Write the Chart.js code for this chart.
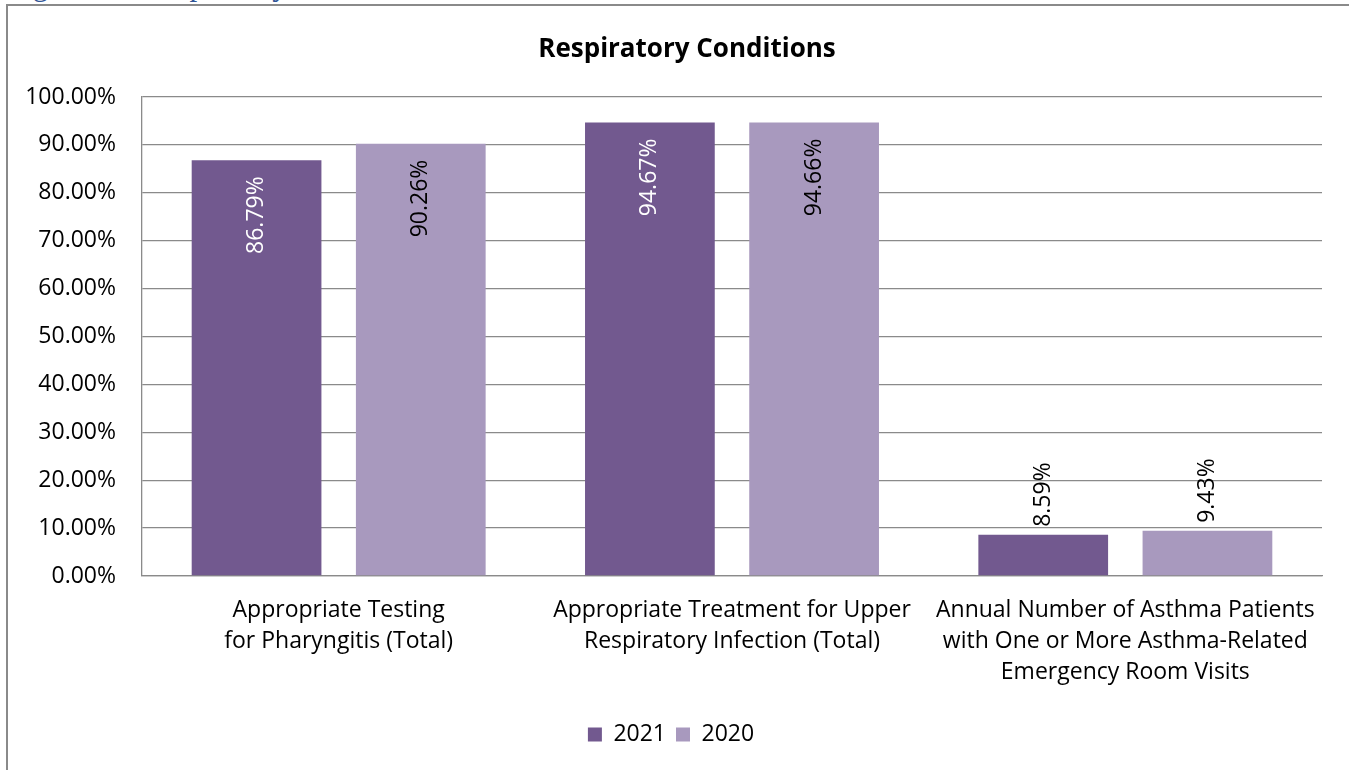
<!DOCTYPE html>
<html>
<head>
<meta charset="utf-8">
<script src="https://cdn.jsdelivr.net/npm/chart.js@4"></script>
<style>
  body { margin: 0; background: #fff; overflow: hidden; }
  #caption {
    position: absolute; left: 7px; top: -31px;
    font-family: "Liberation Serif", serif; font-size: 31px; line-height: 31px;
    color: #2F5496; white-space: nowrap;
  }
  #frame {
    position: absolute; left: 6px; top: 4px; width: 1400px; height: 800px;
    border-left: 2px solid #8a8a8a; border-top: 2px solid #8a8a8a;
  }
  #wrap { position: absolute; left: 0; top: 0; width: 1349px; height: 770px; }
</style>
</head>
<body>
<div id="caption">Figure 10: Respiratory Conditions</div>
<div id="frame"></div>
<div id="wrap"><canvas id="chartResp"></canvas></div>
<script>
// chart data
const categories = [
    ['Appropriate Testing', 'for Pharyngitis (Total)'],
    ['Appropriate Treatment for Upper', 'Respiratory Infection (Total)'],
    ['Annual Number of Asthma Patients', 'with One or More Asthma-Related', 'Emergency Room Visits']
];
const values2021 = [86.79, 94.67, 8.59];
const values2020 = [90.26, 94.66, 9.43];
const yTicks = [0, 10, 20, 30, 40, 50, 60, 70, 80, 90, 100];

const FONT = '"Open Sans", sans-serif';

// draws the rotated value labels on top of / inside the bars
const barLabels = {
    id: 'barLabels',
    afterLayout(chart) {
        // title sits a little right of the canvas centre in the original
        if (chart.titleBlock) {
            chart.titleBlock.left += 16;
            chart.titleBlock.right += 16;
        }
    },
    afterDatasetsDraw(chart) {
        const ctx = chart.ctx;
        chart.data.datasets.forEach((ds, i) => {
            const meta = chart.getDatasetMeta(i);
            meta.data.forEach((bar, j) => {
                const v = ds.data[j];
                const txt = v.toFixed(2) + '%';
                ctx.save();
                ctx.font = '23px ' + FONT;
                ctx.textBaseline = 'middle';
                if (v > 50) {
                    ctx.translate(bar.x, bar.y + 16);
                    ctx.rotate(-Math.PI / 2);
                    ctx.textAlign = 'right';
                    ctx.fillStyle = i === 0 ? '#ffffff' : '#000000';
                } else {
                    ctx.translate(bar.x, bar.y - 8);
                    ctx.rotate(-Math.PI / 2);
                    ctx.textAlign = 'left';
                    ctx.fillStyle = '#000000';
                }
                ctx.fillText(txt, 0, 0);
                ctx.restore();
            });
        });
    }
};

const ctx = document.getElementById('chartResp').getContext('2d');

var data2021 = {
    label: '2021',
    data: values2021,
    backgroundColor: '#72598F',
    borderWidth: 0,
    categoryPercentage: 0.835,
    barPercentage: 0.79
};

var data2020 = {
    label: '2020',
    data: values2020,
    backgroundColor: '#A899BE',
    borderWidth: 0,
    categoryPercentage: 0.835,
    barPercentage: 0.79
};

const chart = new Chart(ctx, {
    type: 'bar',
    data: {
        labels: categories,
        datasets: [data2021, data2020]
    },
    plugins: [barLabels],
    options: {
        responsive: true,
        maintainAspectRatio: false,
        animation: false,
        layout: { padding: { top: 0, left: 20, right: 27, bottom: 14 } },
        plugins: {
            title: {
                display: true,
                text: 'Respiratory Conditions',
                color: '#000',
                font: { family: FONT, size: 26, weight: 'bold' },
                padding: { top: 34.4, bottom: 31.4 }
            },
            legend: {
                position: 'bottom',
                labels: {
                    color: '#000',
                    font: { family: FONT, size: 23 },
                    boxWidth: 14,
                    boxHeight: 14,
                    padding: 10
                }
            },
            tooltip: { enabled: false }
        },
        scales: {
            x: {
                grid: { display: false, drawTicks: false },
                border: { display: true, color: '#8a8a8a', width: 1.3 },
                ticks: {
                    color: '#000',
                    font: { family: FONT, size: 23, lineHeight: 1.35 },
                    padding: 19,
                    maxRotation: 0,
                    autoSkip: false
                },
                afterFit(scale) { scale.height = 137; }
            },
            y: {
                min: 0,
                max: 100,
                afterBuildTicks(scale) { scale.ticks = yTicks.map(v => ({ value: v })); },
                grid: { color: '#8a8a8a', lineWidth: 1.3, drawTicks: false },
                border: { display: true, color: '#8a8a8a', width: 1.3 },
                ticks: {
                    color: '#000',
                    font: { family: FONT, size: 23 },
                    padding: 26,
                    callback: v => v.toFixed(2) + '%'
                },
                afterFit(scale) { scale.width = 122; }
            }
        }
    }
});
</script>
</body>
</html>
